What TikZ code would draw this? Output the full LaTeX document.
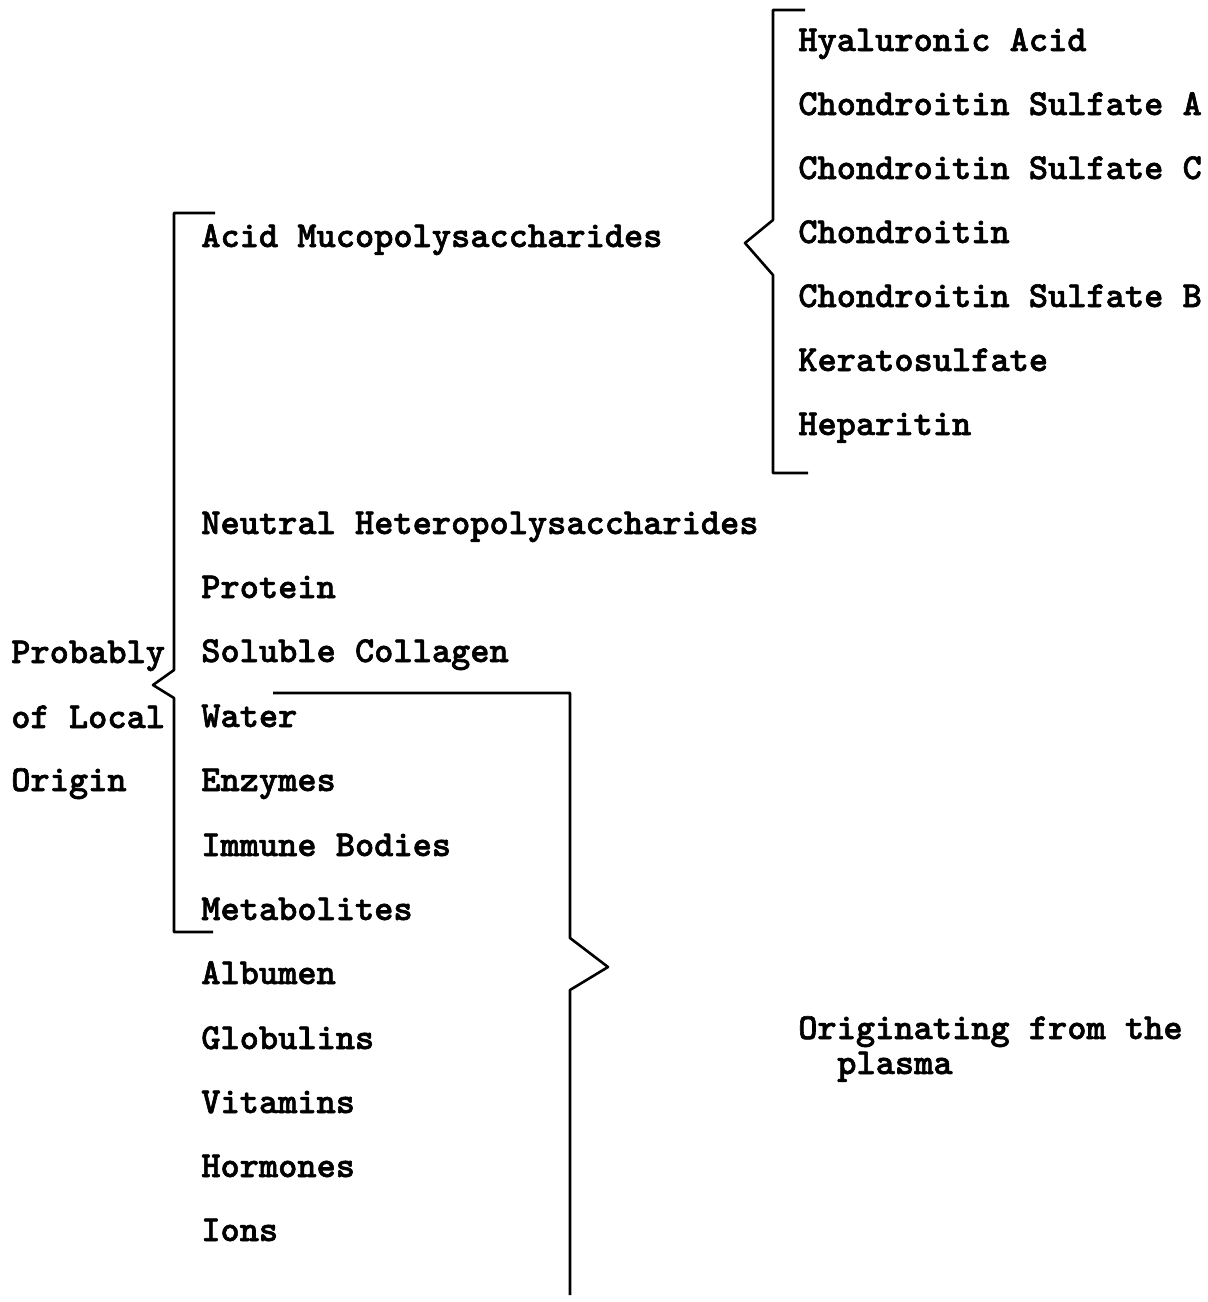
\documentclass[tikz,border=0pt]{standalone}
\usepackage{fontspec}
\newfontfamily\typewr{lmmonolt10-bold.otf}[FakeBold=1.6]
\begin{document}
\begin{tikzpicture}[x=0.5pt, y=-0.5pt, line width=1.3pt, line join=round,
  item/.style={anchor=base west, inner sep=0pt,
    font=\typewr\fontsize{18.3}{22}\selectfont}]
	\useasboundingbox (0,0) rectangle (1207,1302);
	% right hand list
	\node[item] (HA) at (797,51) {Hyaluronic Acid};
	\node[item] (CSA) at (797,115) {Chondroitin Sulfate A};
	\node[item] (CSC) at (797,179) {Chondroitin Sulfate C};
	\node[item] (CH) at (797,243) {Chondroitin};
	\node[item] (CSB) at (797,307) {Chondroitin Sulfate B};
	\node[item] (KS) at (797,371) {Keratosulfate};
	\node[item] (HP) at (797,435) {Heparitin};
	% main list
	\node[item] (AM) at (200,247) {Acid Mucopolysaccharides};
	\node[item] (NH) at (200,534) {Neutral Heteropolysaccharides};
	\node[item] (PR) at (200,598) {Protein};
	\node[item] (SC) at (200,662) {Soluble Collagen};
	\node[item] (WA) at (200,727) {Water};
	\node[item] (EN) at (200,791) {Enzymes};
	\node[item] (IB) at (200,856) {Immune Bodies};
	\node[item] (ME) at (200,920) {Metabolites};
	\node[item] (AL) at (200,984) {Albumen};
	\node[item] (GL) at (200,1049) {Globulins};
	\node[item] (VI) at (200,1113) {Vitamins};
	\node[item] (HO) at (200,1177) {Hormones};
	\node[item] (IO) at (200,1241) {Ions};
	% group labels
	\node[item] (P1) at (10,663) {Probably};
	\node[item] (P2) at (10,728) {of Local};
	\node[item] (P3) at (10,791) {Origin};
	\node[item] (O1) at (797,1039) {Originating from the};
	\node[item] (O2) at (836,1074) {plasma};
	% brackets
	\draw (805,10) -- (773,10) -- (773,220) -- (745,243) -- (773,275) -- (773,473) -- (808,473);
	\draw (215,213) -- (174,213) -- (174,670) -- (153,685) -- (174,698) -- (174,932) -- (213,932);
	\draw (273,693) -- (570,693) -- (570,938) -- (608,967) -- (570,990) -- (570,1295);
\end{tikzpicture}
\end{document}
